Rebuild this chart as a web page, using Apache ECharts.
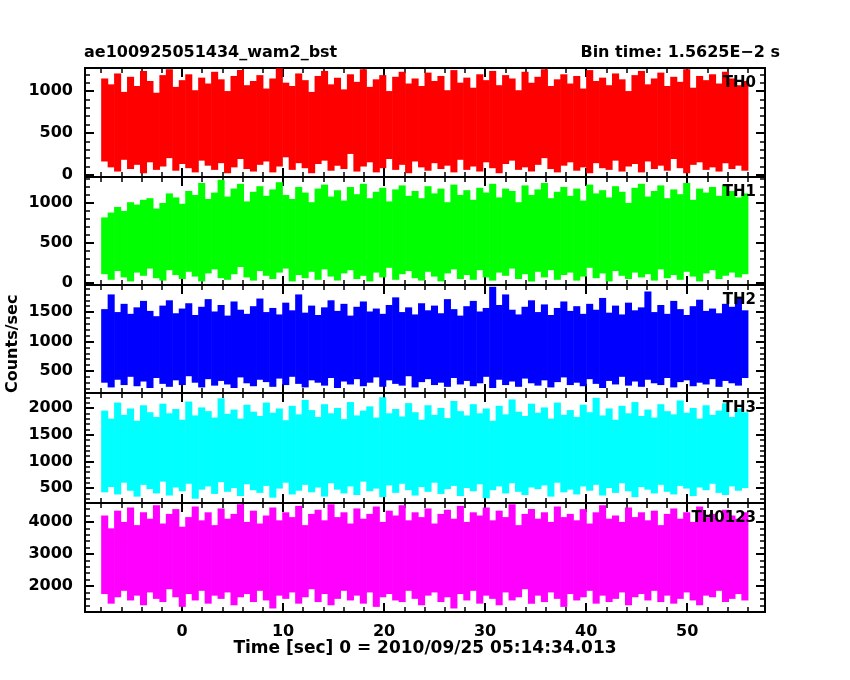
<!DOCTYPE html>
<html><head><meta charset="utf-8">
<script src="https://cdn.jsdelivr.net/npm/echarts@6/dist/echarts.min.js"></script>
<style>html,body{margin:0;padding:0;background:#fff}#c{width:850px;height:680px}</style>
</head><body><div id="c"></div>
<script>
const startTime = -8, binWidth = 0.64;
const names = ['TH0','TH1','TH2','TH3','TH0123'];
const colors = ['#ff0000','#00ff00','#0000ff','#00ffff','#ff00ff'];
const xMajorTicks = [0,10,20,30,40,50];
const th0Hi = [1150,1080,1210,990,1170,1060,1240,1120,980,1190,1260,1050,1130,1200,1010,1160,1090,1230,1140,1000,1180,1250,1070,1120,1190,1030,1150,1270,1100,1060,1210,1130,990,1180,1240,1080,1160,1020,1200,1110,1260,1050,1140,1190,1000,1170,1230,1090,1150,1060,1220,1120,1180,1010,1250,1100,1160,1040,1200,1130,1240,1070,1190,1150,1010,1230,1100,1170,1260,1060,1140,1200,1090,1180,1030,1250,1120,1160,1070,1210,1140,1000,1190,1240,1080,1150,1220,1060,1170,1110,1260,1040,1180,1130,1200,1090,1230,1150,1070,1120];
const th0Lo = [160,90,40,180,70,120,20,150,60,100,200,50,130,80,30,170,110,60,140,20,90,190,70,40,120,160,30,100,210,60,140,80,20,130,170,50,110,70,250,40,100,150,30,80,190,60,120,20,160,90,50,140,70,110,30,180,60,100,40,150,80,20,130,170,60,90,40,120,200,70,30,110,150,50,90,20,140,80,60,170,40,100,130,30,160,70,110,50,190,80,20,120,150,60,90,40,140,70,110,50];
const th1Hi = [820,880,950,900,1010,980,1040,1060,930,1000,1120,1070,990,1150,1100,1250,1050,1130,1290,1080,1180,1240,1020,1140,1210,1090,1170,1260,1100,1050,1200,1130,1010,1180,1230,1080,1160,1030,1200,1110,1240,1060,1140,1190,1020,1170,1220,1090,1150,1060,1210,1120,1180,1010,1230,1100,1160,1040,1190,1130,1240,1070,1180,1150,1010,1220,1100,1170,1250,1060,1140,1200,1090,1180,1030,1230,1120,1160,1070,1210,1140,1000,1190,1240,1080,1150,1220,1060,1170,1110,1250,1040,1180,1130,1200,1090,1230,1150,1070,1120];
const th1Lo = [110,40,150,70,20,130,90,180,60,30,160,100,50,140,80,20,120,170,60,40,110,200,70,30,150,90,50,130,180,20,100,60,140,40,170,80,30,120,160,50,90,20,130,70,190,40,110,150,60,30,140,80,20,120,170,50,100,40,160,70,30,130,90,180,50,110,20,140,70,160,40,100,130,30,80,190,60,120,20,150,90,50,130,70,110,30,170,60,100,40,140,80,20,120,160,50,90,130,70,110];
const th2Hi = [1550,1800,1500,1640,1470,1580,1690,1520,1430,1610,1700,1480,1560,1650,1450,1590,1720,1510,1620,1440,1680,1540,1470,1600,1730,1500,1570,1460,1660,1530,1800,1490,1610,1450,1580,1700,1520,1640,1440,1590,1680,1510,1560,1470,1620,1750,1500,1580,1460,1650,1530,1610,1480,1720,1550,1440,1600,1690,1510,1570,1930,1620,1800,1540,1460,1590,1700,1500,1630,1450,1570,1680,1520,1600,1470,1640,1540,1740,1490,1610,1460,1660,1530,1580,1850,1500,1620,1470,1690,1550,1450,1600,1710,1520,1560,1480,1640,1590,1760,1530];
const th2Lo = [300,220,350,260,400,240,320,210,380,280,230,340,260,410,300,220,360,250,330,270,210,390,290,240,350,310,230,370,260,400,280,220,340,300,250,380,210,320,270,360,240,300,390,230,340,280,250,410,220,310,360,260,300,230,380,270,330,240,290,400,210,350,260,320,230,370,290,250,340,220,310,390,260,300,240,360,280,210,330,270,400,250,320,230,350,290,260,380,220,310,340,240,300,270,360,230,330,290,250,380];
const th3Hi = [1950,1800,2100,1870,1990,1760,2050,1920,1830,2080,1900,1980,1780,2120,1860,2010,1940,1820,2180,1890,1970,1800,2060,1930,1850,2100,1910,1990,1770,2040,1880,2150,1960,1830,2070,1900,2000,1790,2110,1860,1950,2030,1820,2200,1900,1980,1840,2090,1920,1780,2050,1870,2000,1810,2130,1940,1860,2070,1900,1990,1760,2040,1880,2160,1930,1850,2080,1910,2010,1800,2100,1870,1960,1830,2060,1920,2190,1860,1990,1780,2040,1900,2110,1850,1970,1820,2070,1940,1880,2140,1910,2000,1800,2050,1870,1950,2090,1830,1990,1920];
const th3Lo = [420,520,380,600,450,340,560,480,400,620,360,510,440,580,300,470,530,390,610,430,500,350,570,460,410,540,320,490,600,380,450,560,420,510,340,590,470,400,530,370,620,440,490,330,550,410,580,460,360,520,430,600,390,480,540,350,500,440,570,310,460,530,400,590,430,370,510,480,550,340,600,420,470,380,530,450,560,360,500,410,590,440,330,520,470,400,560,430,380,540,490,350,510,460,580,410,370,530,450,500];
const th0123Hi = [4200,3800,4350,4000,4450,3900,4300,4100,4520,3950,4250,4400,3850,4150,4480,4050,4300,3900,4420,4100,4250,4550,4000,4350,3950,4200,4450,4050,4300,4150,4500,3900,4250,4380,4050,4550,4150,4300,3950,4420,4100,4250,4480,4000,4350,4200,4520,4050,4300,4150,4420,3950,4250,4380,4100,4500,4000,4300,4200,4450,4050,4350,4150,4550,3900,4250,4400,4100,4300,4000,4480,4150,4250,4050,4400,3950,4300,4520,4100,4200,4000,4450,4150,4300,4050,4350,3900,4250,4420,4100,4300,4000,4480,4150,4250,4050,4380,4200,4100,4300];
const th0123Lo = [1750,1450,1650,1850,1550,1700,1400,1800,1600,1500,1900,1650,1350,1750,1550,1850,1450,1700,1600,1800,1400,1650,1750,1500,1850,1550,1300,1700,1600,1800,1450,1650,1900,1500,1750,1400,1600,1850,1550,1700,1450,1800,1350,1650,1750,1550,1500,1850,1600,1400,1700,1800,1500,1650,1300,1750,1550,1850,1450,1700,1600,1400,1800,1550,1650,1900,1450,1700,1500,1800,1600,1350,1750,1550,1650,1850,1450,1700,1500,1600,1800,1400,1650,1750,1550,1850,1500,1700,1450,1600,1800,1550,1400,1700,1650,1850,1500,1600,1750,1550];
const hiArr = [th0Hi, th1Hi, th2Hi, th3Hi, th0123Hi];
const loArr = [th0Lo, th1Lo, th2Lo, th3Lo, th0123Lo];
const yMin = [-25,-25,125,220,1190], yMax = [1275,1325,1960,2280,4590];
const yMajorTicks = [[0,500,1000],[0,500,1000],[500,1000,1500],[500,1000,1500,2000],[2000,3000,4000]];
const yMinorStep = [100,100,100,100,200];

const xMin=-9.6, xMax=57.7;
const xMinor=[]; for (let v=-8; v<=56; v+=2) if (v%10!==0) xMinor.push(v);
const tops = [68,177,285,393,503], h = [109,108,108,110,109];
const grid=[], xAxis=[], yAxis=[], series=[];
const font = {fontFamily:'DejaVu Sans', fontWeight:'bold', fontSize:16, color:'#000'};
const line = {show:true, onZero:false, lineStyle:{color:'#000', width:2}};
function ax(base, ticks, len, labels){
  return Object.assign({axisLine:line, splitLine:{show:false},
    axisTick:{show:true, inside:true, length:len, customValues:ticks, lineStyle:{color:'#000', width:len>5?2:1.5}},
    axisLabel: labels ? Object.assign({show:true, customValues:ticks, margin:12, formatter:v=>String(v)}, font) : {show:false}
  }, base);
}
for (let i=0;i<5;i++){
  grid.push({left:85, width:680, top:tops[i], height:h[i], show:false});
  const xb = {type:'value', gridIndex:i, min:xMin, max:xMax};
  const xi = xAxis.length;
  xAxis.push(ax(Object.assign({position:'bottom'}, xb), xMajorTicks, 9, i===4));
  xAxis.push(ax(Object.assign({position:'top'}, xb), xMajorTicks, 9, false));
  xAxis.push(ax(Object.assign({position:'bottom'}, xb), xMinor, 5, false));
  xAxis.push(ax(Object.assign({position:'top'}, xb), xMinor, 5, false));
  const yb = {type:'value', gridIndex:i, min:yMin[i], max:yMax[i]};
  const minor=[];
  const st=yMinorStep[i];
  for (let v=Math.ceil(yMin[i]/st)*st; v<=yMax[i]; v+=st) if (!yMajorTicks[i].includes(v)) minor.push(v);
  const yi = yAxis.length;
  yAxis.push(ax(Object.assign({position:'left'}, yb), yMajorTicks[i], 9, true));
  yAxis.push(ax(Object.assign({position:'right'}, yb), yMajorTicks[i], 9, false));
  yAxis.push(ax(Object.assign({position:'left'}, yb), minor, 5, false));
  yAxis.push(ax(Object.assign({position:'right'}, yb), minor, 5, false));
  const hi = hiArr[i], lo = loArr[i];
  const data = hi.map((v,k)=>[startTime + k*binWidth, lo[k], v]);
  series.push({type:'custom', xAxisIndex:xi, yAxisIndex:yi, data:data, clip:true,
    encode:{x:0, y:[1,2]},
    renderItem:(params, api)=>{
      const p0 = api.coord([api.value(0), api.value(1)]);
      const p1 = api.coord([api.value(0)+binWidth, api.value(2)]);
      return {type:'rect', shape:{x:p0[0], y:p1[1], width:p1[0]-p0[0]+0.6, height:p0[1]-p1[1]},
        style:{fill:colors[i]}};
    }});
}
const graphic = [];
for (let i=0;i<5;i++){
  graphic.push({type:'text', right:94, top:tops[i]+8, z:100,
    style:{text:names[i], fill:'#000', font:'bold 15px "DejaVu Sans"'}});
}
graphic.push({type:'text', left:84, top:45, style:{text:'ae100925051434_wam2_bst', fill:'#000', font:'bold 16px "DejaVu Sans"'}});
graphic.push({type:'text', right:70, top:45, style:{text:'Bin time: 1.5625E\u22122 s', fill:'#000', font:'bold 16px "DejaVu Sans"'}});
graphic.push({type:'text', x:425, y:640, style:{text:'Time [sec] 0 = 2010/09/25 05:14:34.013', fill:'#000', font:'bold 17px "DejaVu Sans"', textAlign:'center'}});
graphic.push({type:'text', x:5, y:393, rotation:Math.PI/2, style:{text:'Counts/sec', fill:'#000', font:'bold 16px "DejaVu Sans"'}});
const chart = echarts.init(document.getElementById('c'));
chart.setOption({animation:false, backgroundColor:'#fff', grid, xAxis, yAxis, series, graphic});
</script></body></html>
